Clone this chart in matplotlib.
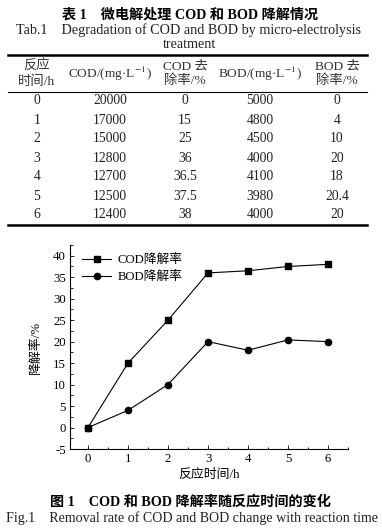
import matplotlib
matplotlib.use('Agg')
import matplotlib.pyplot as plt
from matplotlib.lines import Line2D
from matplotlib.ticker import MultipleLocator

plt.rcParams['font.family'] = ['Liberation Serif', 'Noto Sans CJK SC']
plt.rcParams['mathtext.fontset'] = 'stix'
plt.rcParams['axes.unicode_minus'] = False

# table data
hours = [0, 1, 2, 3, 4, 5, 6]
cod_conc = [20000, 17000, 15000, 12800, 12700, 12500, 12400]
cod_rate = [0, 15, 25, 36, 36.5, 37.5, 38]
bod_conc = [5000, 4800, 4500, 4000, 4100, 3980, 4000]
bod_rate = [0, 4, 10, 20, 18, 20.4, 20]

W, H = 382, 528
fig = plt.figure(figsize=(W / 100, H / 100), dpi=100)


def fx(px):
    return px / W


def fy(py):
    return 1 - py / H


# ---- table ----
fig.text(fx(190), fy(15), '表 1    微电解处理 COD 和 BOD 降解情况', ha='center', va='center',
         fontsize=10.2, fontweight='bold')
fig.text(fx(189), fy(30), 'Tab.1    Degradation of COD and BOD by micro-electrolysis',
         ha='center', va='center', fontsize=10.2, color='#222222')
fig.text(fx(189), fy(45), 'treatment', ha='center', va='center', fontsize=10.2, color='#222222')

fig.add_artist(Line2D([fx(8), fx(367)], [fy(55), fy(55)], color='black', lw=1.8))
fig.add_artist(Line2D([fx(8), fx(367)], [fy(92), fy(92)], color='black', lw=0.8))
fig.add_artist(Line2D([fx(8), fx(367)], [fy(225), fy(225)], color='black', lw=1.8))

col_x = [37, 110, 185, 260, 337]
headers = ['反应\n时间/h', 'COD/(mg·L$^{-1}$)', 'COD 去\n除率/%', 'BOD/(mg·L$^{-1}$)', 'BOD 去\n除率/%']
for cx, hd in zip(col_x, headers):
    fig.text(fx(cx), fy(74), hd, ha='center', va='center', fontsize=9.6, linespacing=1.2,
             color='#333333')

row_y0, row_dy = 101, 19
for i in range(len(hours)):
    vals = [hours[i], cod_conc[i], cod_rate[i], bod_conc[i], bod_rate[i]]
    for cx, v in zip(col_x, vals):
        fig.text(fx(cx), fy(row_y0 + i * row_dy), f'{v:g}', ha='center', va='center',
                 fontsize=9.8, color='#222222')

# ---- chart ----
ax = fig.add_axes([fx(70), fy(449), fx(348) - fx(70), fy(245) - fy(449)])
ax.plot(hours, cod_rate, color='black', lw=0.8, marker='s', markersize=4.3, label='COD降解率')
ax.plot(hours, bod_rate, color='black', lw=0.8, marker='o', markersize=4.5, label='BOD降解率')

ax.set_xlim(-0.45, 6.5)
ax.set_ylim(-5, 42.5)
ax.xaxis.set_major_locator(MultipleLocator(1))
ax.xaxis.set_minor_locator(MultipleLocator(0.5))
ax.yaxis.set_major_locator(MultipleLocator(5))
ax.yaxis.set_minor_locator(MultipleLocator(2.5))
ax.tick_params(which='both', direction='in', labelsize=9.2, width=0.6, pad=3)
ax.tick_params(which='major', length=3)
ax.tick_params(which='minor', length=1.8)
for s in ['top', 'right']:
    ax.spines[s].set_visible(False)
for s in ['left', 'bottom']:
    ax.spines[s].set_linewidth(0.8)

ax.set_xlabel('反应时间/h', fontsize=9.3, labelpad=3)
ax.set_ylabel('降解率/%', fontsize=9.3, labelpad=8)

ax.legend(loc='upper left', frameon=False, fontsize=9.2, handlelength=2.3,
          handletextpad=0.5, borderaxespad=0.0, labelspacing=0.35,
          bbox_to_anchor=(0.025, 0.98))

fig.text(fx(190), fy(502), '图 1    COD 和 BOD 降解率随反应时间的变化', ha='center', va='center',
         fontsize=10.2, fontweight='bold')
fig.text(fx(192), fy(518), 'Fig.1    Removal rate of COD and BOD change with reaction time',
         ha='center', va='center', fontsize=10.1, color='#222222')

fig.savefig('out.png', dpi=100)
